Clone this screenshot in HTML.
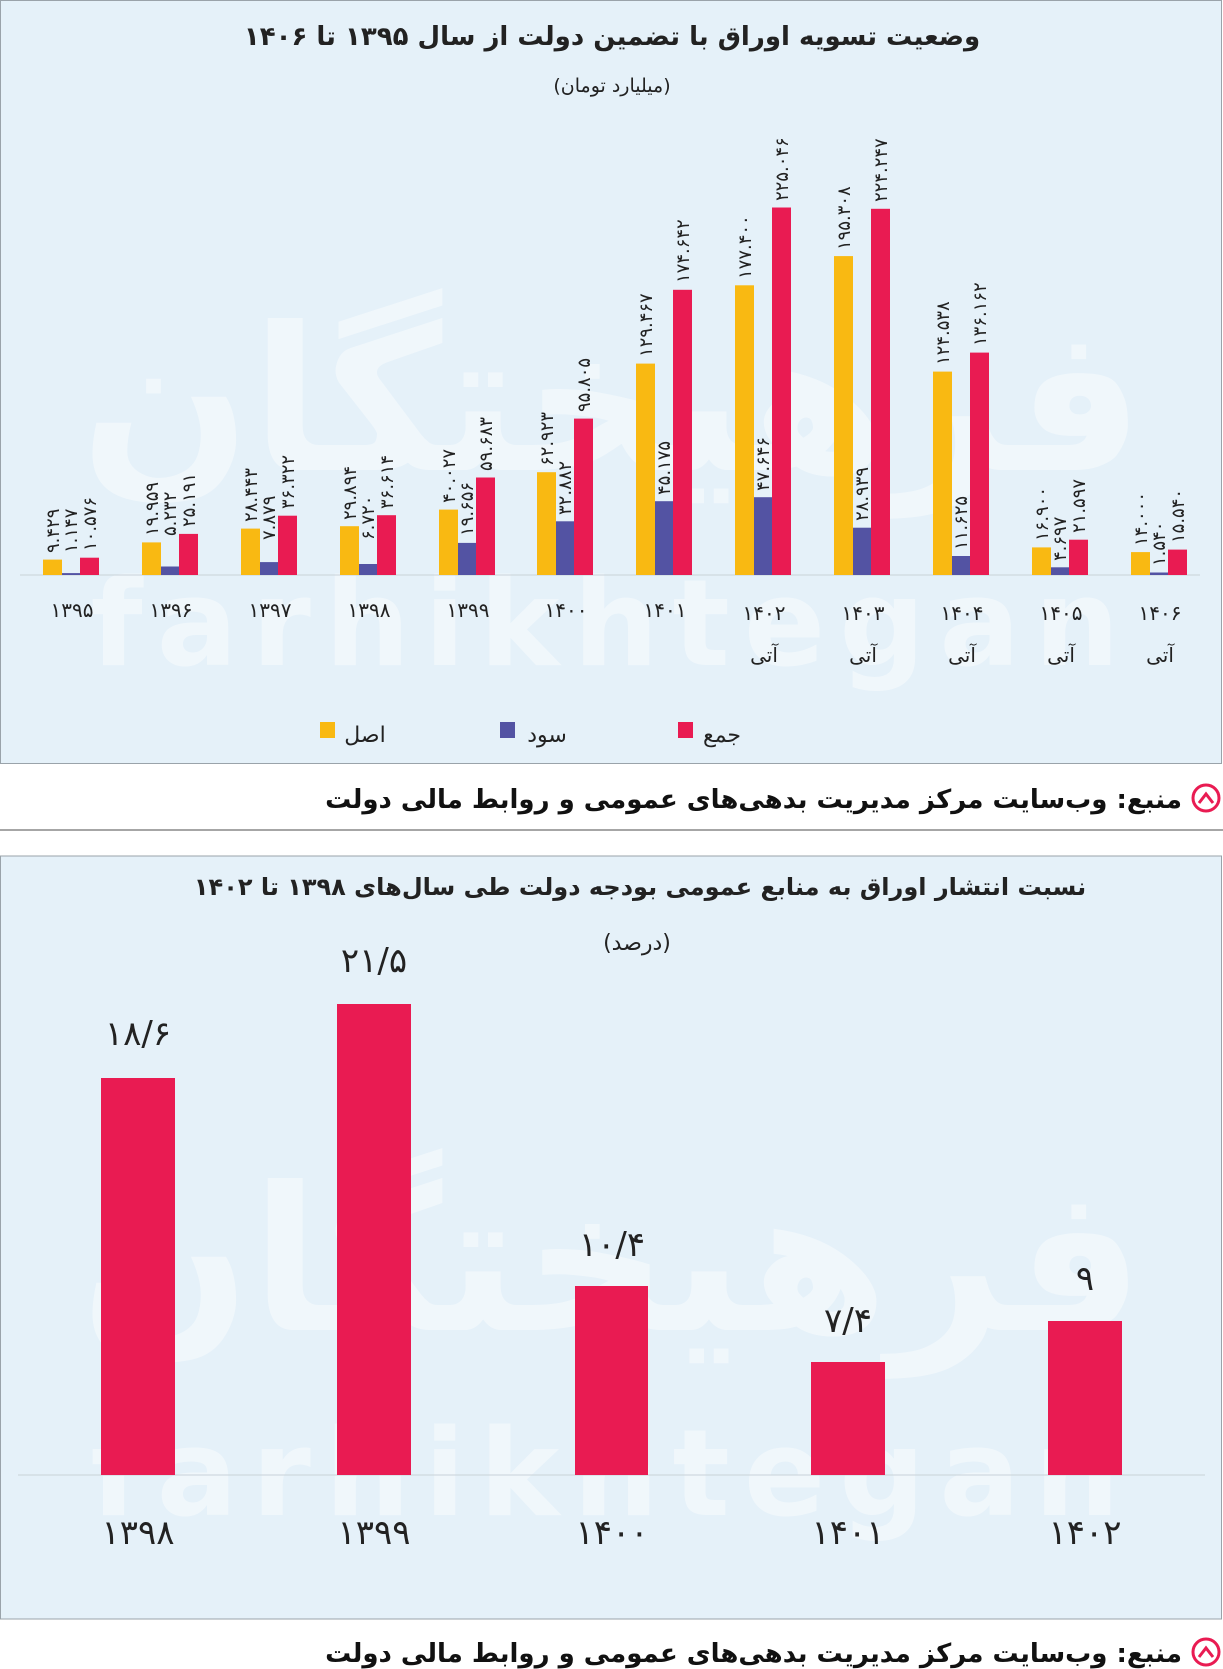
<!DOCTYPE html>
<html><head><meta charset="utf-8"><style>
body{margin:0;background:#fff}
svg{display:block}
text{font-family:"DejaVu Sans","Liberation Sans",sans-serif}
</style></head><body>
<svg width="1223" height="1669" viewBox="0 0 1223 1669" xmlns="http://www.w3.org/2000/svg">
<rect x="0" y="0" width="1223" height="1669" fill="#fff"/>
<!-- panel 1 -->
<rect x="0.5" y="0.5" width="1221" height="763" fill="#e5f1f9" stroke="#9aa3aa"/>
<g fill="#fff" opacity="0.45" font-weight="bold">
<text x="612" y="665" font-size="120" text-anchor="middle" letter-spacing="14" font-family="Liberation Sans">farhikhtegan</text>
<text x="612" y="470" font-size="200" text-anchor="middle" direction="rtl">فرهیختگان</text>
</g>
<text x="612" y="45" font-size="26" font-weight="bold" text-anchor="middle" direction="rtl" fill="#222">وضعیت تسویه اوراق با تضمین دولت از سال ۱۳۹۵  تا ۱۴۰۶</text>
<text x="612" y="92" font-size="19" text-anchor="middle" direction="rtl" fill="#222">(میلیارد تومان)</text>
<line x1="20" y1="575" x2="1200" y2="575" stroke="#c9d2d8" stroke-width="1"/>
<g id="bars">
<rect x="43" y="559.6" width="19" height="15.4" fill="#f9b912"/><rect x="62" y="573.1" width="18" height="1.9" fill="#5353a3"/><rect x="80" y="557.7" width="19" height="17.3" fill="#e91b52"/>
<rect x="142" y="542.4" width="19" height="32.6" fill="#f9b912"/><rect x="161" y="566.5" width="18" height="8.5" fill="#5353a3"/><rect x="179" y="533.9" width="19" height="41.1" fill="#e91b52"/>
<rect x="241" y="528.6" width="19" height="46.4" fill="#f9b912"/><rect x="260" y="562.1" width="18" height="12.9" fill="#5353a3"/><rect x="278" y="515.7" width="19" height="59.3" fill="#e91b52"/>
<rect x="340" y="526.2" width="19" height="48.8" fill="#f9b912"/><rect x="359" y="564" width="18" height="11" fill="#5353a3"/><rect x="377" y="515.2" width="19" height="59.8" fill="#e91b52"/>
<rect x="439" y="509.6" width="19" height="65.4" fill="#f9b912"/><rect x="458" y="542.9" width="18" height="32.1" fill="#5353a3"/><rect x="476" y="477.5" width="19" height="97.5" fill="#e91b52"/>
<rect x="537" y="472.2" width="19" height="102.8" fill="#f9b912"/><rect x="556" y="521.3" width="18" height="53.7" fill="#5353a3"/><rect x="574" y="418.6" width="19" height="156.4" fill="#e91b52"/>
<rect x="636" y="363.6" width="19" height="211.4" fill="#f9b912"/><rect x="655" y="501.2" width="18" height="73.8" fill="#5353a3"/><rect x="673" y="289.8" width="19" height="285.2" fill="#e91b52"/>
<rect x="735" y="285.3" width="19" height="289.7" fill="#f9b912"/><rect x="754" y="497.2" width="18" height="77.8" fill="#5353a3"/><rect x="772" y="207.5" width="19" height="367.5" fill="#e91b52"/>
<rect x="834" y="256.1" width="19" height="318.9" fill="#f9b912"/><rect x="853" y="527.7" width="18" height="47.3" fill="#5353a3"/><rect x="871" y="208.8" width="19" height="366.2" fill="#e91b52"/>
<rect x="933" y="371.6" width="19" height="203.4" fill="#f9b912"/><rect x="952" y="556" width="18" height="19" fill="#5353a3"/><rect x="970" y="352.6" width="19" height="222.4" fill="#e91b52"/>
<rect x="1032" y="547.4" width="19" height="27.6" fill="#f9b912"/><rect x="1051" y="567.3" width="18" height="7.7" fill="#5353a3"/><rect x="1069" y="539.7" width="19" height="35.3" fill="#e91b52"/>
<rect x="1131" y="552.1" width="19" height="22.9" fill="#f9b912"/><rect x="1150" y="572.5" width="18" height="2.5" fill="#5353a3"/><rect x="1168" y="549.6" width="19" height="25.4" fill="#e91b52"/>
</g>
<g font-size="18" fill="#222">
<text transform="translate(59,553) rotate(-90)">۹.۴۲۹</text><text transform="translate(77,553) rotate(-90)">۱.۱۴۷</text><text transform="translate(96,551) rotate(-90)">۱۰.۵۷۶</text>
<text transform="translate(158,536) rotate(-90)">۱۹.۹۵۹</text><text transform="translate(176,536) rotate(-90)">۵.۲۳۲</text><text transform="translate(195,527) rotate(-90)">۲۵.۱۹۱</text>
<text transform="translate(257,522) rotate(-90)">۲۸.۴۴۳</text><text transform="translate(275,540) rotate(-90)">۷.۸۷۹</text><text transform="translate(294,509) rotate(-90)">۳۶.۳۲۲</text>
<text transform="translate(356,520) rotate(-90)">۲۹.۸۹۴</text><text transform="translate(374,540) rotate(-90)">۶.۷۲۰</text><text transform="translate(393,509) rotate(-90)">۳۶.۶۱۴</text>
<text transform="translate(455,503) rotate(-90)">۴۰.۰۲۷</text><text transform="translate(473,536) rotate(-90)">۱۹.۶۵۶</text><text transform="translate(492,471) rotate(-90)">۵۹.۶۸۳</text>
<text transform="translate(553,466) rotate(-90)">۶۲.۹۲۳</text><text transform="translate(571,515) rotate(-90)">۳۲.۸۸۲</text><text transform="translate(590,412) rotate(-90)">۹۵.۸۰۵</text>
<text transform="translate(652,357) rotate(-90)">۱۲۹.۴۶۷</text><text transform="translate(670,495) rotate(-90)">۴۵.۱۷۵</text><text transform="translate(689,283) rotate(-90)">۱۷۴.۶۴۲</text>
<text transform="translate(751,279) rotate(-90)">۱۷۷.۴۰۰</text><text transform="translate(769,491) rotate(-90)">۴۷.۶۴۶</text><text transform="translate(788,201) rotate(-90)">۲۲۵.۰۴۶</text>
<text transform="translate(850,250) rotate(-90)">۱۹۵.۳۰۸</text><text transform="translate(868,521) rotate(-90)">۲۸.۹۳۹</text><text transform="translate(887,202) rotate(-90)">۲۲۴.۲۴۷</text>
<text transform="translate(949,365) rotate(-90)">۱۲۴.۵۳۸</text><text transform="translate(967,550) rotate(-90)">۱۱.۶۲۵</text><text transform="translate(986,346) rotate(-90)">۱۳۶.۱۶۲</text>
<text transform="translate(1048,541) rotate(-90)">۱۶.۹۰۰</text><text transform="translate(1066,561) rotate(-90)">۴.۶۹۷</text><text transform="translate(1085,533) rotate(-90)">۲۱.۵۹۷</text>
<text transform="translate(1147,546) rotate(-90)">۱۴.۰۰۰</text><text transform="translate(1165,566) rotate(-90)">۱.۵۴۰</text><text transform="translate(1184,543) rotate(-90)">۱۵.۵۴۰</text>
</g>
<g font-size="20" fill="#222" text-anchor="middle">
<text x="72" y="617">۱۳۹۵</text><text x="171" y="617">۱۳۹۶</text><text x="270" y="617">۱۳۹۷</text><text x="369" y="617">۱۳۹۸</text><text x="468" y="617">۱۳۹۹</text><text x="566" y="617">۱۴۰۰</text><text x="665" y="617">۱۴۰۱</text><text x="764" y="620">۱۴۰۲</text><text x="863" y="620">۱۴۰۳</text><text x="962" y="620">۱۴۰۴</text><text x="1061" y="620">۱۴۰۵</text><text x="1160" y="620">۱۴۰۶</text>
<text x="764" y="662">آتی</text><text x="863" y="662">آتی</text><text x="962" y="662">آتی</text><text x="1061" y="662">آتی</text><text x="1160" y="662">آتی</text>
</g>
<rect x="320" y="722" width="15" height="16" fill="#f9b912"/><text x="365" y="742" font-size="22" text-anchor="middle" fill="#222">اصل</text>
<rect x="500" y="722" width="15" height="16" fill="#5353a3"/><text x="547" y="742" font-size="22" text-anchor="middle" fill="#222">سود</text>
<rect x="678" y="722" width="15" height="16" fill="#e91b52"/><text x="722" y="742" font-size="22" text-anchor="middle" fill="#222">جمع</text>
<!-- source 1 -->
<circle cx="1206" cy="798" r="13" fill="none" stroke="#e91b52" stroke-width="3"/>
<path d="M1199 803 L1206 794 L1213 803" fill="none" stroke="#e91b52" stroke-width="3"/>
<text x="1182" y="808" font-size="26" font-weight="bold" text-anchor="start" direction="rtl" fill="#111">منبع: وب‌سایت مرکز مدیریت بدهی‌های عمومی و روابط مالی دولت</text>
<line x1="0" y1="830" x2="1223" y2="830" stroke="#888" stroke-width="1.5"/>
<!-- panel 2 -->
<rect x="0.5" y="856" width="1221" height="763" fill="#e5f1f9" stroke="#9aa3aa"/>
<g fill="#fff" opacity="0.45" font-weight="bold">
<text x="612" y="1515" font-size="120" text-anchor="middle" letter-spacing="14" font-family="Liberation Sans">farhikhtegan</text>
<text x="612" y="1330" font-size="200" text-anchor="middle" direction="rtl">فرهیختگان</text>
</g>
<text x="640" y="895" font-size="24" font-weight="bold" text-anchor="middle" direction="rtl" fill="#222">نسبت انتشار اوراق به منابع عمومی بودجه دولت طی سال‌های ۱۳۹۸  تا ۱۴۰۲</text>
<text x="637" y="950" font-size="22" text-anchor="middle" direction="rtl" fill="#222">(درصد)</text>
<line x1="18" y1="1475" x2="1205" y2="1475" stroke="#c9d2d8" stroke-width="1"/>
<rect x="101" y="1078" width="74" height="397" fill="#e91b52"/>
<rect x="337" y="1004" width="74" height="471" fill="#e91b52"/>
<rect x="575" y="1286" width="73" height="189" fill="#e91b52"/>
<rect x="811" y="1362" width="74" height="113" fill="#e91b52"/>
<rect x="1048" y="1321" width="74" height="154" fill="#e91b52"/>
<g font-size="34" fill="#222" text-anchor="middle">
<text x="138" y="1045">۱۸/۶</text><text x="374" y="972">۲۱/۵</text><text x="612" y="1256">۱۰/۴</text><text x="848" y="1332">۷/۴</text><text x="1085" y="1290">۹</text>
<text x="138" y="1544">۱۳۹۸</text><text x="374" y="1544">۱۳۹۹</text><text x="612" y="1544">۱۴۰۰</text><text x="848" y="1544">۱۴۰۱</text><text x="1085" y="1544">۱۴۰۲</text>
</g>
<circle cx="1206" cy="1652" r="13" fill="none" stroke="#e91b52" stroke-width="3"/>
<path d="M1199 1657 L1206 1648 L1213 1657" fill="none" stroke="#e91b52" stroke-width="3"/>
<text x="1182" y="1662" font-size="26" font-weight="bold" text-anchor="start" direction="rtl" fill="#111">منبع: وب‌سایت مرکز مدیریت بدهی‌های عمومی و روابط مالی دولت</text>
</svg>
</body></html>
